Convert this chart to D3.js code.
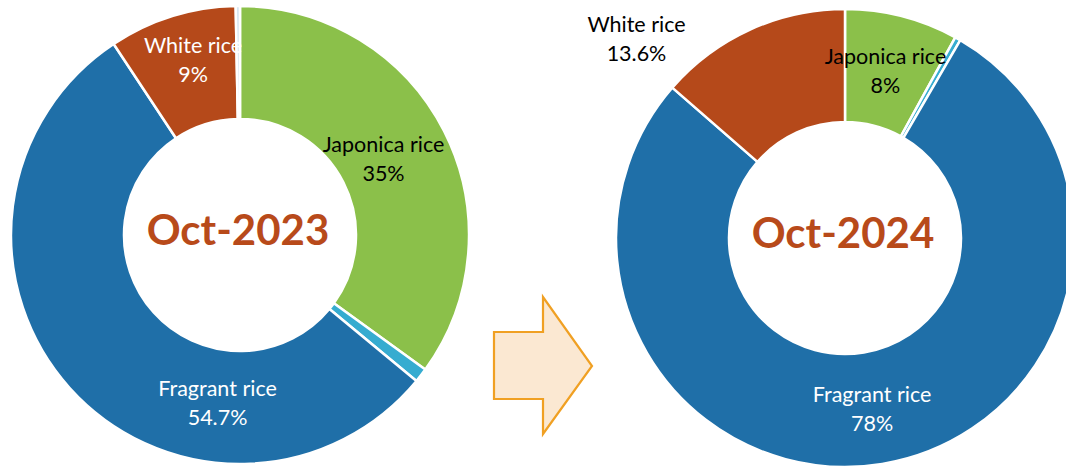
<!DOCTYPE html>
<html><head><meta charset="utf-8">
<script src="https://cdn.jsdelivr.net/npm/d3@7"></script>
<style>body{margin:0;background:#fff;}svg{display:block;font-family:Lato,"Open Sans",sans-serif;}</style>
</head><body>
<svg id="c" width="1066" height="466"></svg>
<script>
// ---- data ----
const categories = ["Japonica rice", "Other", "Fragrant rice", "White rice", "Other 2"];
const values2023 = [35, 1.0, 54.7, 9, 0.3];
const values2024 = [8, 0.4, 78, 13.6, 0];
const labels2023 = ["35%", null, "54.7%", "9%", null];
const labels2024 = ["8%", null, "78%", "13.6%", null];
const titles = ["Oct-2023", "Oct-2024"];

// ---- style ----
const colors = ["#8bc04a", "#36acd0", "#1f6fa8", "#b5491a", "#d7e6f1"];
const labelColors2023 = ["#000", null, "#fff", "#fff", null];
const labelColors2024 = ["#000", null, "#fff", "#000", null];
// label polar placement (deg clockwise from 12 o'clock, radius)
const labelPos2023 = [[64.5, 159], null, [187.3, 176.9], [344.3, 173.5], null];
const labelPos2024 = [[14.2, 165], null, [171.4, 181], [312.5, 282.8], null];

const svg = d3.select("#c");
const charts = [
  {cx: 240, cy: 235, values: values2023, labels: labels2023, lc: labelColors2023, lp: labelPos2023, title: titles[0], ty: 245},
  {cx: 845, cy: 238, values: values2024, labels: labels2024, lc: labelColors2024, lp: labelPos2024, title: titles[1], ty: 248}
];
const outerR = 229, innerR = 116;
const pie = d3.pie().sort(null).value(d => d);
const arc = d3.arc().innerRadius(innerR).outerRadius(outerR);
const color = d3.scaleOrdinal().domain(categories).range(colors);

charts.forEach(ch => {
  const g = svg.append("g").attr("transform", `translate(${ch.cx},${ch.cy})`);
  const arcs = pie(ch.values);
  g.selectAll("path").data(arcs).join("path")
    .attr("d", arc)
    .attr("fill", (d, i) => color(categories[i]))
    .attr("stroke", "#fff").attr("stroke-width", 2.5).attr("stroke-linejoin", "round")
    .style("display", d => d.value > 0 ? null : "none");
  arcs.forEach((d, i) => {
    if (!ch.labels[i]) return;
    const [ang, r] = ch.lp[i];
    const a = ang * Math.PI / 180;
    const x = r * Math.sin(a), y = -r * Math.cos(a);
    const t = g.append("text").attr("text-anchor", "middle")
      .attr("fill", ch.lc[i]).attr("font-size", 21.5);
    t.append("tspan").attr("x", x).attr("y", y - 14.5).text(categories[i]);
    t.append("tspan").attr("x", x).attr("y", y + 14.5).text(ch.labels[i]);
  });
  svg.append("text").attr("x", ch.cx - 2).attr("y", ch.ty)
    .attr("text-anchor", "middle").attr("font-weight", "bold")
    .attr("font-size", 42).attr("fill", "#b84a1a").text(ch.title);
});

// arrow
const arrowPts = [[494,332],[543,332],[543,297],[592,366],[543,434],[543,399],[494,399]];
svg.append("polygon").attr("points", arrowPts.map(p => p.join(",")).join(" "))
  .attr("fill", "#fbe8d2").attr("stroke", "#f0a023").attr("stroke-width", 2.2);
</script>
</body></html>
